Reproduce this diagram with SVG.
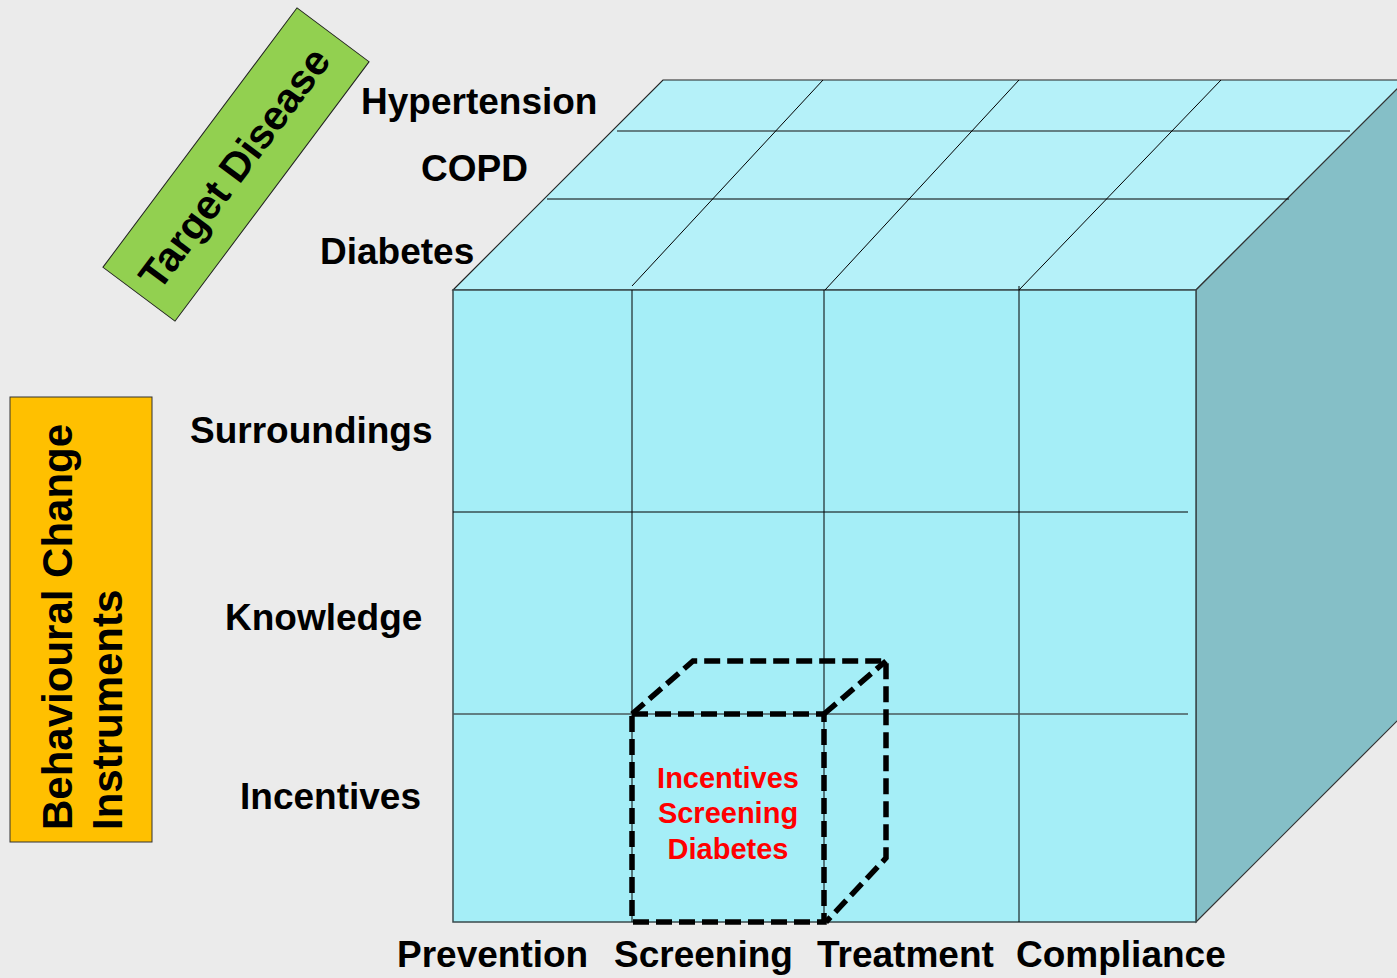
<svg xmlns="http://www.w3.org/2000/svg" width="1397" height="978" viewBox="0 0 1397 978">
<style>
.lbl{font-family:"Liberation Sans",Arial,sans-serif;font-weight:bold;font-size:37px;fill:#000}
.grid{stroke:#000;stroke-width:1;fill:none}
.edge{stroke:#3a4a4c;stroke-width:1.5;fill:none}
.dash{stroke:#000;stroke-width:5.5;fill:none;stroke-dasharray:16 7;stroke-linejoin:miter}
.red{font-family:"Liberation Sans",Arial,sans-serif;font-weight:bold;font-size:29px;fill:#FF0000;text-anchor:middle}
</style>
<rect width="1397" height="978" fill="#EBEBEB"/>
<g id="cube">
  <polygon points="453,290 663,80 1406,80 1196,290" fill="#B5F1F9" stroke="#222" stroke-width="1.2"/>
  <polygon points="1196,290 1406,80 1406,712 1196,922" fill="#85BFC7" stroke="#333" stroke-width="1.2"/>
  <rect x="453" y="290" width="743" height="632" fill="#A5EEF7" stroke="#3a4a4c" stroke-width="1.5"/>
  <g class="grid">
    <line x1="617" y1="131" x2="1350" y2="131" stroke="#4a5a5c" stroke-width="1.5"/>
    <line x1="547" y1="199" x2="1289" y2="199"/>
    <line x1="632" y1="286" x2="823" y2="80"/>
    <line x1="825" y1="290" x2="1019" y2="80"/>
    <line x1="1019" y1="290" x2="1221" y2="80"/>
    <line x1="632" y1="290" x2="632" y2="922"/>
    <line x1="824" y1="290" x2="824" y2="922"/>
    <line x1="1019" y1="286" x2="1019" y2="922"/>
    <line x1="453" y1="512" x2="1188" y2="512"/>
    <line x1="453" y1="714" x2="1188" y2="714" stroke="#4a5a5c" stroke-width="1.3"/>
  </g>
</g>
<g id="selected-cell">
  <path class="dash" d="M632,714 L824,714 L824,922 L632,922 Z"/>
  <path class="dash" d="M632,714 L693,661 L886,661 L886,858 L826,922"/>
  <path class="dash" d="M824,714 L886,661"/>
  <text class="red" x="728" y="788">Incentives</text>
  <text class="red" x="728" y="823">Screening</text>
  <text class="red" x="728" y="859">Diabetes</text>
</g>
<g id="target-disease">
  <g transform="translate(236,164.5) rotate(-53.2)">
    <rect x="-162" y="-45" width="324" height="90" fill="#92D050" stroke="#222" stroke-width="1"/>
    <text x="-4" y="15" text-anchor="middle" style="font-family:'Liberation Sans',Arial,sans-serif;font-weight:bold;font-size:41px;fill:#000">Target Disease</text>
  </g>
</g>
<g id="behavioural">
  <rect x="10" y="397" width="142" height="445" fill="#FFC000" stroke="#333" stroke-width="1"/>
  <text transform="translate(72,830) rotate(-90)" style="font-family:'Liberation Sans',Arial,sans-serif;font-weight:bold;font-size:42px;fill:#000">Behavioural Change</text>
  <text transform="translate(122,830) rotate(-90)" style="font-family:'Liberation Sans',Arial,sans-serif;font-weight:bold;font-size:42px;fill:#000">Instruments</text>
</g>
<g id="disease-labels">
  <text class="lbl" x="361" y="114">Hypertension</text>
  <text class="lbl" x="421" y="181">COPD</text>
  <text class="lbl" x="320" y="264">Diabetes</text>
</g>
<g id="instrument-labels">
  <text class="lbl" x="190" y="443">Surroundings</text>
  <text class="lbl" x="225" y="630">Knowledge</text>
  <text class="lbl" x="240" y="809">Incentives</text>
</g>
<g id="stage-labels">
  <text class="lbl" x="397" y="967">Prevention</text>
  <text class="lbl" x="614" y="967">Screening</text>
  <text class="lbl" x="817" y="967">Treatment</text>
  <text class="lbl" x="1016" y="967">Compliance</text>
</g>
</svg>
